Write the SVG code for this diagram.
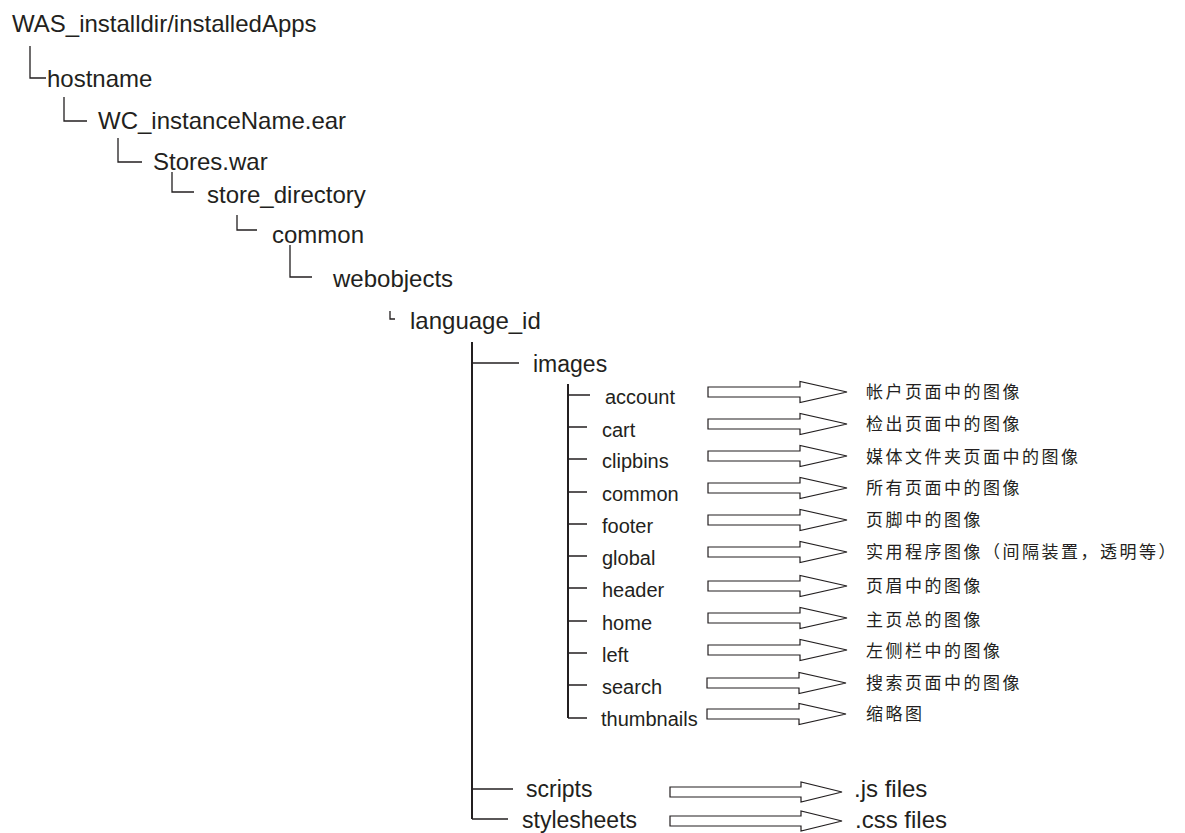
<svg xmlns="http://www.w3.org/2000/svg" width="1185" height="833" viewBox="0 0 1185 833">
<style>
.t{font-family:"Liberation Sans",Arial,sans-serif;fill:#231f20}
.a{font-size:24px}
.b{font-size:23px}
.s{font-size:20px}
.z{font-family:"Noto Sans CJK SC",sans-serif;font-size:17px;letter-spacing:2.5px;fill:#231f20}
.ln{fill:none;stroke:#231f20;stroke-width:1.3}
.th{fill:none;stroke:#231f20;stroke-width:2}
.ar{fill:#fff;stroke:#231f20;stroke-width:1.2;stroke-linejoin:miter}
</style>
<defs>
<path id="arr" d="M0,-5 H92 V-10.5 L139,0 L92,10.5 V5 H0 Z"/>
<path id="arr2" d="M0,-5 H131 V-10 L172,0 L131,10 V5 H0 Z"/>
</defs>
<rect width="1185" height="833" fill="#fff"/>
<g id="connectors">
<path class="ln" d="M30,46 V78 H46"/>
<path class="ln" d="M64,97 V121 H87"/>
<path class="ln" d="M118,138 V162 H142"/>
<path class="ln" d="M172,172 V192 H194"/>
<path class="ln" d="M237,215 V230 H257"/>
<path class="ln" d="M290,245 V277 H312"/>
<path class="ln" d="M390,311 V319 H395"/>
<path class="th" d="M472,342 V819"/>
<path class="ln" d="M472,363 H519"/>
<path class="ln" d="M472,789 H513"/>
<path class="ln" d="M472,819 H508"/>
<path class="th" d="M568,384 V718"/>
<path class="ln" d="M568,395 H590 M568,427 H587 M568,459 H587 M568,492 H587 M568,524 H587 M568,556 H587 M568,588 H587 M568,621 H587 M568,653 H587 M568,685 H587 M568,718 H587"/>
<g class="ar">
<use href="#arr" x="708" y="392"/>
<use href="#arr" x="708" y="424"/>
<use href="#arr" x="708" y="456"/>
<use href="#arr" x="708" y="488"/>
<use href="#arr" x="708" y="520"/>
<use href="#arr" x="708" y="552"/>
<use href="#arr" x="708" y="586"/>
<use href="#arr" x="708" y="618"/>
<use href="#arr" x="708" y="650"/>
<use href="#arr" x="707" y="683"/>
<use href="#arr" x="707" y="714"/>
<use href="#arr2" x="670" y="792"/>
<use href="#arr2" x="670" y="821"/>
</g>
</g>
<g id="n-root"><text class="t a" x="12" y="32">WAS_installdir/installedApps</text></g>
<g id="n-hostname"><text class="t a" x="47" y="87">hostname</text></g>
<g id="n-ear"><text class="t a" x="98" y="129">WC_instanceName.ear</text></g>
<g id="n-war"><text class="t a" x="153" y="170">Stores.war</text></g>
<g id="n-storedir"><text class="t a" x="207" y="203">store_directory</text></g>
<g id="n-common"><text class="t a" x="272" y="243">common</text></g>
<g id="n-webobjects"><text class="t a" x="333" y="287">webobjects</text></g>
<g id="n-language"><text class="t a" x="410" y="329">language_id</text></g>
<g id="n-images"><text class="t b" x="533" y="372">images</text></g>
<g id="n-account"><text class="t s" x="605" y="404">account</text></g>
<g id="n-cart"><text class="t s" x="602" y="437">cart</text></g>
<g id="n-clipbins"><text class="t s" x="602" y="468">clipbins</text></g>
<g id="n-common2"><text class="t s" x="602" y="501">common</text></g>
<g id="n-footer"><text class="t s" x="602" y="533">footer</text></g>
<g id="n-global"><text class="t s" x="602" y="565">global</text></g>
<g id="n-header"><text class="t s" x="602" y="597">header</text></g>
<g id="n-home"><text class="t s" x="602" y="630">home</text></g>
<g id="n-left"><text class="t s" x="602" y="662">left</text></g>
<g id="n-search"><text class="t s" x="602" y="694">search</text></g>
<g id="n-thumbnails"><text class="t s" x="601" y="726">thumbnails</text></g>
<g id="n-scripts"><text class="t b" x="526" y="797">scripts</text></g>
<g id="n-stylesheets"><text class="t b" x="522" y="828">stylesheets</text></g>
<g id="d-account"><text class="z" x="866" y="398">帐户页面中的图像</text></g>
<g id="d-cart"><text class="z" x="866" y="430">检出页面中的图像</text></g>
<g id="d-clipbins"><text class="z" x="866" y="463">媒体文件夹页面中的图像</text></g>
<g id="d-common"><text class="z" x="866" y="494">所有页面中的图像</text></g>
<g id="d-footer"><text class="z" x="866" y="526">页脚中的图像</text></g>
<g id="d-global"><text class="z" x="866" y="558">实用程序图像（间隔装置，透明等）</text></g>
<g id="d-header"><text class="z" x="866" y="592">页眉中的图像</text></g>
<g id="d-home"><text class="z" x="866" y="626">主页总的图像</text></g>
<g id="d-left"><text class="z" x="866" y="657">左侧栏中的图像</text></g>
<g id="d-search"><text class="z" x="866" y="689">搜索页面中的图像</text></g>
<g id="d-thumbnails"><text class="z" x="866" y="720">缩略图</text></g>
<g id="d-scripts"><text class="t a" x="854" y="797">.js files</text></g>
<g id="d-stylesheets"><text class="t a" x="855" y="828">.css files</text></g>
</svg>
